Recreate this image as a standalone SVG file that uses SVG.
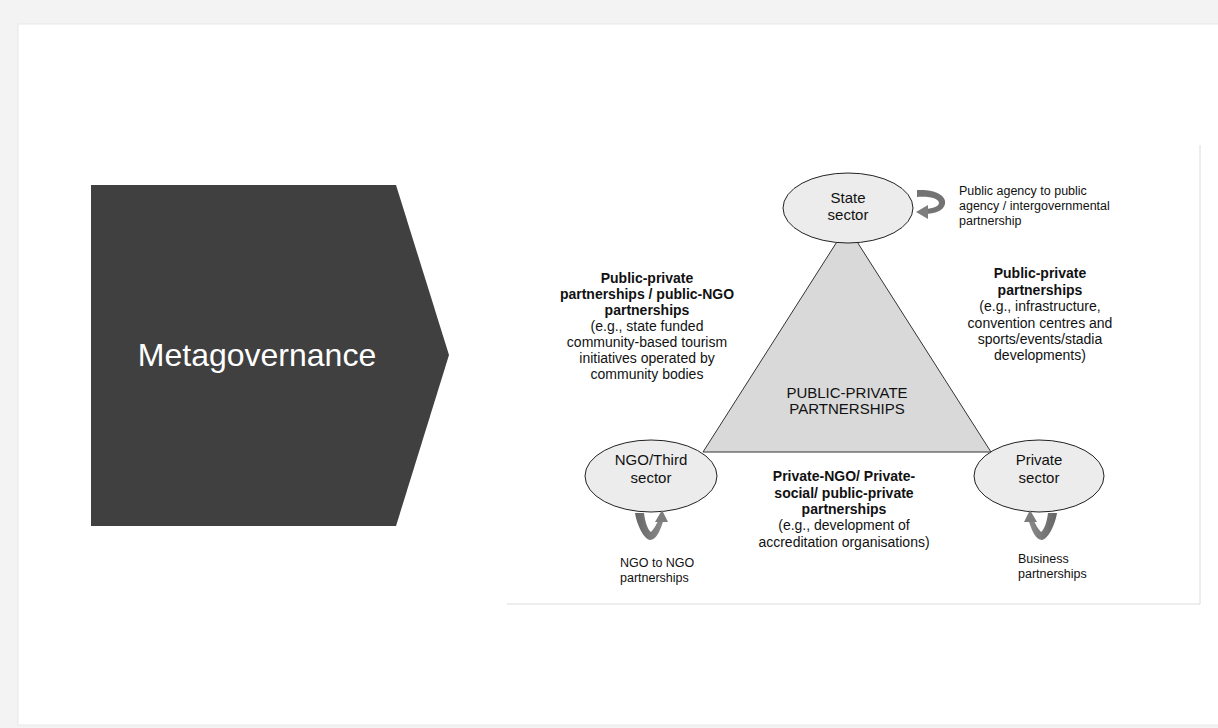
<svg xmlns="http://www.w3.org/2000/svg" width="1218" height="728" viewBox="0 0 1218 728">
  <defs>
    <style>
      .t { font-family: "Liberation Sans", Arial, sans-serif; fill: #111; }
      .b { font-weight: bold; }
      .lbl { font-size: 14px; text-anchor: middle; }
      .sm { font-size: 12.5px; }
      .node { fill: #ececec; stroke: #222; stroke-width: 1; }
      .loop { fill: url(#loopGrad); }
      .head { fill: #7d7d7d; }
    </style>
    <linearGradient id="loopGrad" x1="0" y1="0" x2="1" y2="0">
      <stop offset="0" stop-color="#666"/>
      <stop offset="1" stop-color="#8a8a8a"/>
    </linearGradient>
    <g id="uloop">
      <path class="loop" d="M635,513 L644,513 C645,522 648,530 651,532 C654,529 656,525 658,521 L663,522 C660,531 656,540 650,540 C645,540 637,526 635,513 Z"/>
      <polygon class="head" points="662,510 655,522 668,522"/>
    </g>
  </defs>
  <rect x="0" y="0" width="1218" height="728" fill="#f3f3f3"/>
  <rect x="18" y="24" width="1210" height="701" fill="#ffffff" stroke="#e8e8e8" stroke-width="1"/>

  <g id="chevron">
    <polygon points="91,185 396,185 449,355 396,526 91,526" fill="#404040"/>
    <text x="257" y="366" text-anchor="middle" font-family="'Liberation Sans', Arial, sans-serif" font-size="32" fill="#ffffff">Metagovernance</text>
  </g>

  <g id="figure-frame">
    <line x1="1200" y1="145" x2="1200" y2="604" stroke="#dcdcdc" stroke-width="1"/>
    <line x1="507" y1="604" x2="1200" y2="604" stroke="#dcdcdc" stroke-width="1"/>
  </g>

  <g id="ppp-triangle">
    <polygon points="847,226 703,452 991,452" fill="#d9d9d9" stroke="#333" stroke-width="1"/>
    <text class="t" x="847" y="398" font-size="15" text-anchor="middle">PUBLIC-PRIVATE</text>
    <text class="t" x="847" y="414" font-size="15" text-anchor="middle">PARTNERSHIPS</text>
  </g>

  <g id="state-sector">
    <ellipse class="node" cx="848" cy="208" rx="65" ry="35"/>
    <text class="t" x="848" y="203" font-size="15" text-anchor="middle">State</text>
    <text class="t" x="848" y="220" font-size="15" text-anchor="middle">sector</text>
  </g>

  <g id="ngo-sector">
    <ellipse class="node" cx="651" cy="476" rx="66" ry="36"/>
    <text class="t" x="651" y="465" font-size="15" text-anchor="middle">NGO/Third</text>
    <text class="t" x="651" y="483" font-size="15" text-anchor="middle">sector</text>
  </g>

  <g id="private-sector">
    <ellipse class="node" cx="1039" cy="476" rx="65" ry="36"/>
    <text class="t" x="1039" y="465" font-size="15" text-anchor="middle">Private</text>
    <text class="t" x="1039" y="483" font-size="15" text-anchor="middle">sector</text>
  </g>

  <g id="connectors">
    <!-- state self loop -->
    <path d="M917,190 C934,189 947,195 945,204 C943,211 936,213 927,214 L927,209 C934,208 939,206 939,203 C939,199 931,196 917,197 Z" fill="#737373"/>
    <polygon class="head" points="916,212 928,205 928,219"/>
    <!-- NGO self loop -->
    <use href="#uloop"/>
    <!-- Private self loop (mirrored) -->
    <use href="#uloop" transform="translate(1692,0) scale(-1,1)"/>
  </g>

  <g id="label-state-loop">
    <text class="t sm" x="959" y="195">Public agency to public</text>
    <text class="t sm" x="959" y="210">agency / intergovernmental</text>
    <text class="t sm" x="959" y="225">partnership</text>
  </g>

  <g id="label-left">
    <text class="t lbl b" x="647" y="283">Public-private</text>
    <text class="t lbl b" x="647" y="299">partnerships / public-NGO</text>
    <text class="t lbl b" x="647" y="315">partnerships</text>
    <text class="t lbl" x="647" y="331">(e.g., state funded</text>
    <text class="t lbl" x="647" y="347">community-based tourism</text>
    <text class="t lbl" x="647" y="363">initiatives operated by</text>
    <text class="t lbl" x="647" y="379">community bodies</text>
  </g>

  <g id="label-right">
    <text class="t lbl b" x="1040" y="278">Public-private</text>
    <text class="t lbl b" x="1040" y="295">partnerships</text>
    <text class="t lbl" x="1040" y="311">(e.g., infrastructure,</text>
    <text class="t lbl" x="1040" y="328">convention centres and</text>
    <text class="t lbl" x="1040" y="344">sports/events/stadia</text>
    <text class="t lbl" x="1040" y="360">developments)</text>
  </g>

  <g id="label-bottom">
    <text class="t lbl b" x="844" y="481">Private-NGO/ Private-</text>
    <text class="t lbl b" x="844" y="498">social/ public-private</text>
    <text class="t lbl b" x="844" y="514">partnerships</text>
    <text class="t lbl" x="844" y="530">(e.g., development of</text>
    <text class="t lbl" x="844" y="547">accreditation organisations)</text>
  </g>

  <g id="label-ngo-loop">
    <text class="t sm" x="620" y="567">NGO to NGO</text>
    <text class="t sm" x="620" y="582">partnerships</text>
  </g>

  <g id="label-private-loop">
    <text class="t sm" x="1018" y="563">Business</text>
    <text class="t sm" x="1018" y="578">partnerships</text>
  </g>
</svg>
